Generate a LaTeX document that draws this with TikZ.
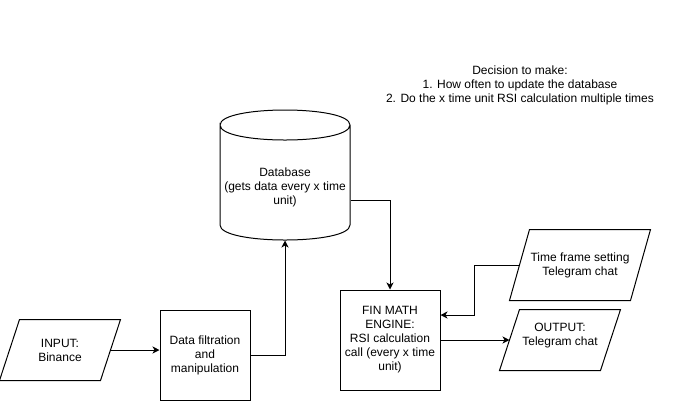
\documentclass[tikz,border=0pt]{standalone}
\usepackage{fontspec}
\setmainfont{Liberation Sans}
\usetikzlibrary{arrows.meta}
\begin{document}
\begin{tikzpicture}[x=0.75pt,y=-0.75pt, line width=0.75pt,
  txt/.style={align=center, font=\fontsize{9}{10.5}\selectfont, inner sep=0pt},
  boxnode/.style={txt, draw, rectangle},
  ionode/.style={txt, rectangle},
  conn/.style={-{Stealth[length=5.25pt,width=5.25pt,inset=1.5pt]}, line width=0.75pt},
  shapeline/.style={line width=0.75pt}]
\useasboundingbox (0,0) rectangle (681,401);

% INPUT
\node[ionode, minimum width=75pt, minimum height=45pt] (inp) at (60,350) {INPUT:\\Binance};
\draw[shapeline] ([xshift=7.5pt]inp.north west) -- ([xshift=7.5pt]inp.north east)
  -- ([xshift=-7.5pt]inp.south east) -- ([xshift=-7.5pt]inp.south west) -- cycle;

% Data filtration
\node[boxnode, minimum width=67.5pt, minimum height=67.5pt] (data) at (205,355) {Data filtration\\and\\manipulation};

% Database cylinder
\node[rectangle, inner sep=0pt, minimum width=97.5pt, minimum height=97.5pt] (db) at (285,175) {};
\draw[shapeline] (220,125) .. controls (220,105) and (350,105) .. (350,125)
  .. controls (350,145) and (220,145) .. (220,125) -- (220,225)
  .. controls (220,245) and (350,245) .. (350,225) -- (350,125);
\node[txt] (dbtext) at (285,187) {Database\\(gets data every x time\\unit)};

% FIN MATH ENGINE
\node[boxnode, minimum width=75pt, minimum height=75pt] (fin) at (390,340) {FIN MATH\\ENGINE:\\RSI calculation\\call (every x time\\unit)};

% Time frame setting
\node[ionode, minimum width=90pt, minimum height=52.5pt] (tf) at (580,265) {Time frame setting\\Telegram chat};
\draw[shapeline] ([xshift=7.5pt]tf.north west) -- ([xshift=7.5pt]tf.north east)
  -- ([xshift=-7.5pt]tf.south east) -- ([xshift=-7.5pt]tf.south west) -- cycle;

% OUTPUT
\node[ionode, minimum width=75pt, minimum height=45pt] (out) at (560,340) {};
\node[txt] (outtext) at (560,336) {OUTPUT:\\Telegram chat};
\draw[shapeline] ([xshift=7.5pt]out.north west) -- ([xshift=7.5pt]out.north east)
  -- ([xshift=-7.5pt]out.south east) -- ([xshift=-7.5pt]out.south west) -- cycle;

% Decision text
\node[txt] (dec) at (520,85) {Decision to make:\\1. How often to update the database\\2. Do the x time unit RSI calculation multiple times};

% Connectors
\draw[conn] (inp.east) -- (data.west |- inp.east);
\draw[conn] (data.east) -| (db.south);
\draw[conn] ([yshift=-18.75pt]db.east) -| (fin.north);
\draw[conn] (tf.west) -- ++(-45,0) |- ([yshift=18.75pt]fin.east);
\draw[conn] (fin.east) -- (out.west);
\end{tikzpicture}
\end{document}
